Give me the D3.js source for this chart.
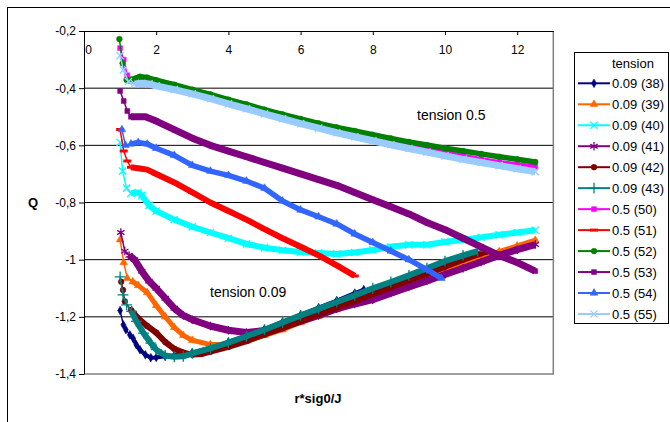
<!DOCTYPE html>
<html>
<head>
<meta charset="utf-8">
<script src="https://cdn.jsdelivr.net/npm/d3@7"></script>
<style>
body { margin: 0; background: #fff; }
svg { font-family: "Liberation Sans", Arial, sans-serif; }
</style>
</head>
<body>
<script>
// tick values and labels
const xTicks = [0, 2, 4, 6, 8, 10, 12];
const yTicks = [-0.2, -0.4, -0.6, -0.8, -1, -1.2, -1.4];
const yTickLabels = ["-0,2", "-0,4", "-0,6", "-0,8", "-1", "-1,2", "-1,4"];

// series names (legend order)
const seriesNames = ["0.09 (38)", "0.09 (39)", "0.09 (40)", "0.09 (41)", "0.09 (42)", "0.09 (43)",
                     "0.5 (50)", "0.5 (51)", "0.5 (52)", "0.5 (53)", "0.5 (54)", "0.5 (55)"];

// [r*sig0/J, Q]
const s38 = [[1.0,-1.178],[1.09,-1.228],[1.16,-1.245],[1.27,-1.263],[1.36,-1.275],[1.45,-1.298],[1.55,-1.315],
  [1.7,-1.333],[1.85,-1.343],[2,-1.342],[2.25,-1.338],[2.5,-1.335],[3,-1.325],[3.5,-1.308],[4,-1.288],
  [4.5,-1.266],[5,-1.243],[5.5,-1.218],[6,-1.193],[6.5,-1.168],[7,-1.143],[7.5,-1.117],[7.75,-1.105]];
const s39 = [[1.0,-0.93],[1.1,-1.01],[1.2,-1.065],[1.35,-1.077],[1.5,-1.09],[1.75,-1.115],[2,-1.16],[2.25,-1.2],
  [2.5,-1.237],[2.75,-1.265],[3,-1.282],[3.5,-1.297],[4,-1.297],[4.5,-1.285],[5,-1.265],[5.5,-1.245],[6,-1.22],
  [6.5,-1.198],[7,-1.175],[7.5,-1.152],[8,-1.128],[8.5,-1.105],[9,-1.08],[9.5,-1.058],[10,-1.035],[10.5,-1.013],
  [11,-0.993],[11.5,-0.972],[12,-0.952],[12.5,-0.932]];
const s40 = [[1.0,-0.59],[1.07,-0.69],[1.18,-0.75],[1.3,-0.768],[1.5,-0.765],[1.6,-0.775],[1.8,-0.81],[2,-0.83],
  [2.5,-0.86],[3,-0.885],[3.5,-0.905],[4,-0.925],[4.5,-0.945],[5,-0.958],[5.5,-0.967],[6,-0.973],[6.5,-0.977],
  [7,-0.98],[7.5,-0.975],[8,-0.966],[8.5,-0.955],[9,-0.948],[9.5,-0.948],[10,-0.938],[10.5,-0.93],[11,-0.922],
  [11.5,-0.913],[12,-0.905],[12.5,-0.897]];
const s41 = [[1.02,-0.905],[1.13,-0.97],[1.25,-0.985],[1.4,-1.0],[1.6,-1.04],[1.8,-1.075],[2,-1.1],[2.25,-1.135],
  [2.5,-1.17],[2.75,-1.195],[3,-1.21],[3.5,-1.232],[4,-1.247],[4.5,-1.255],[5,-1.248],[5.5,-1.235],[6,-1.215],
  [6.5,-1.195],[7,-1.172],[7.5,-1.155],[8,-1.14],[8.5,-1.117],[9,-1.095],[9.5,-1.074],[10,-1.052],[10.5,-1.03],
  [11,-1.008],[11.5,-0.985],[12,-0.965],[12.5,-0.947]];
const s42 = [[1.03,-1.077],[1.08,-1.106],[1.13,-1.146],[1.3,-1.176],[1.5,-1.205],[1.75,-1.232],[2,-1.255],
  [2.25,-1.288],[2.5,-1.312],[2.75,-1.325],[3,-1.332],[3.25,-1.33],[3.5,-1.322],[4,-1.305],[4.5,-1.285],
  [5,-1.262],[5.5,-1.24],[6,-1.215],[6.5,-1.192],[7,-1.168],[7.5,-1.145],[8,-1.12],[8.5,-1.097],[9,-1.073],
  [9.5,-1.05],[10,-1.025],[10.5,-1.0],[11,-0.978],[11.15,-0.972]];
const s43 = [[1.0,-1.06],[1.08,-1.123],[1.18,-1.158],[1.32,-1.181],[1.45,-1.216],[1.65,-1.257],[1.85,-1.292],
  [2,-1.315],[2.25,-1.335],[2.5,-1.34],[2.75,-1.338],[3,-1.328],[3.5,-1.31],[4,-1.29],[4.5,-1.268],[5,-1.245],
  [5.5,-1.22],[6,-1.195],[6.5,-1.172],[7,-1.148],[7.5,-1.125],[8,-1.1],[8.5,-1.078],[9,-1.055],[9.5,-1.03],
  [10,-1.005],[10.5,-0.985],[10.9,-0.97]];
const s50 = [[1.0,-0.26],[1.1,-0.3],[1.2,-0.355],[1.3,-0.375],[1.5,-0.365],[1.75,-0.367],[2,-0.378],[2.5,-0.393],
  [3,-0.41],[3.5,-0.428],[4,-0.447],[4.5,-0.465],[5,-0.483],[5.5,-0.5],[6,-0.517],[6.5,-0.533],[7,-0.548],
  [7.5,-0.562],[8,-0.576],[8.5,-0.589],[9,-0.602],[9.5,-0.614],[10,-0.626],[10.5,-0.638],[11,-0.649],
  [11.5,-0.66],[12,-0.668],[12.5,-0.675]];
const s51 = [[1.0,-0.545],[1.1,-0.62],[1.2,-0.655],[1.3,-0.677],[1.5,-0.68],[1.75,-0.685],[2,-0.7],[2.5,-0.73],
  [3,-0.765],[3.5,-0.8],[4,-0.83],[4.5,-0.86],[5,-0.893],[5.5,-0.925],[6,-0.955],[6.5,-0.985],[7,-1.02],[7.5,-1.057]];
const s52 = [[0.98,-0.228],[1.07,-0.313],[1.18,-0.371],[1.3,-0.37],[1.55,-0.36],[1.75,-0.363],[2,-0.372],
  [2.5,-0.388],[3,-0.405],[3.5,-0.422],[4,-0.44],[4.5,-0.457],[5,-0.475],[5.5,-0.492],[6,-0.508],[6.5,-0.523],
  [7,-0.537],[7.5,-0.55],[8,-0.563],[8.5,-0.576],[9,-0.588],[9.5,-0.599],[10,-0.61],[10.5,-0.62],[11,-0.63],
  [11.5,-0.64],[12,-0.649],[12.5,-0.658]];
const s53 = [[1.0,-0.41],[1.1,-0.445],[1.2,-0.48],[1.3,-0.5],[1.5,-0.5],[1.7,-0.5],[2,-0.515],[2.5,-0.545],
  [3,-0.575],[3.5,-0.6],[4,-0.62],[4.5,-0.64],[5,-0.66],[5.5,-0.68],[6,-0.7],[6.5,-0.72],[7,-0.74],[7.5,-0.765],
  [8,-0.79],[8.5,-0.815],[9,-0.84],[9.5,-0.87],[10,-0.895],[10.5,-0.925],[11,-0.955],[11.5,-0.985],[12,-1.01],
  [12.5,-1.04]];
const s54 = [[1.05,-0.545],[1.15,-0.6],[1.3,-0.595],[1.5,-0.59],[1.75,-0.595],[2,-0.61],[2.5,-0.635],[3,-0.67],
  [3.5,-0.69],[4,-0.705],[4.5,-0.725],[5,-0.75],[5.5,-0.795],[6,-0.826],[6.5,-0.85],[7,-0.875],[7.5,-0.91],
  [8,-0.94],[8.5,-0.97],[9,-1.0],[9.5,-1.035],[9.9,-1.065]];
const s55 = [[1.0,-0.286],[1.09,-0.336],[1.23,-0.377],[1.4,-0.385],[1.6,-0.383],[1.8,-0.385],[2,-0.392],
  [2.5,-0.405],[3,-0.42],[3.5,-0.437],[4,-0.455],[4.5,-0.472],[5,-0.49],[5.5,-0.507],[6,-0.524],[6.5,-0.54],
  [7,-0.556],[7.5,-0.57],[8,-0.584],[8.5,-0.598],[9,-0.611],[9.5,-0.624],[10,-0.637],[10.5,-0.649],[11,-0.66],
  [11.5,-0.671],[12,-0.682],[12.5,-0.692]];

const seriesData = [s38, s39, s40, s41, s42, s43, s50, s51, s52, s53, s54, s55];

// styles
const colors = ["#000080", "#ff6600", "#00ffff", "#800080", "#800000", "#008080",
                "#ff00ff", "#ff0000", "#008000", "#800080", "#3366ff", "#99ccff"];
const markers = ["diamond", "triangle", "x", "asterisk", "circle", "plus",
                 "square", "dash", "circle", "square", "triangle", "x"];
const bandWidth = [4, 5, 6, 7, 6, 6, 5, 6, 5.5, 7, 5.5, 7];

function markerPath(kind) {
    if (kind === "diamond") return d3.symbol(d3.symbolDiamond, 22)();
    if (kind === "triangle") return d3.symbol(d3.symbolTriangle, 26)();
    if (kind === "circle") return d3.symbol(d3.symbolCircle, 26)();
    if (kind === "square") return d3.symbol(d3.symbolSquare, 24)();
    if (kind === "x") return d3.symbol(d3.symbolTimes, 36)();
    if (kind === "plus") return d3.symbol(d3.symbolPlus, 40)();
    if (kind === "asterisk") return d3.symbol(d3.symbolAsterisk, 50)();
    return "M-4,0H4";
}
function isStroke(kind) {
    return kind === "x" || kind === "plus" || kind === "asterisk" || kind === "dash";
}

function main() {
    const svgWidth = 670;
    const svgHeight = 422;
    const svg = d3.select("body").append("svg")
        .attr("width", svgWidth)
        .attr("height", svgHeight);

    // outer chart frame
    svg.append("rect")
        .attr("x", 7.5).attr("y", 7.5)
        .attr("width", 720).attr("height", 500)
        .attr("fill", "none").attr("stroke", "#000");

    const x = d3.scaleLinear().domain([0, 13]).range([84, 553.3]);
    const y = d3.scaleLinear().domain([-1.4, -0.2]).range([374, 31]);

    // gridlines
    svg.selectAll("line.grid")
        .data(yTicks.slice(1, -1))
        .enter().append("line")
        .attr("class", "grid")
        .attr("x1", x(0)).attr("x2", x(13))
        .attr("y1", d => y(d)).attr("y2", d => y(d))
        .attr("stroke", "#000").attr("stroke-width", 1);

    // plot border right + bottom
    svg.append("path")
        .attr("d", `M${x(0)},${y(-1.4)}H${x(13)}V${y(-0.2)}`)
        .attr("fill", "none").attr("stroke", "#808080").attr("stroke-width", 1.5);

    // y axis
    const yAxis = svg.append("g")
        .attr("transform", `translate(${x(0)},0)`)
        .call(d3.axisLeft(y).tickValues(yTicks).tickSize(5).tickSizeOuter(0)
            .tickFormat((d, i) => yTickLabels[i]));
    yAxis.selectAll("text").attr("font-size", 12).attr("fill", "#000");
    yAxis.attr("font-family", null);

    // x axis along the top, labels inside the plot
    const xAxis = svg.append("g")
        .attr("transform", `translate(0,${y(-0.2)})`)
        .call(d3.axisBottom(x).tickValues(xTicks).tickSize(4).tickSizeOuter(0).tickPadding(10));
    xAxis.attr("font-family", null);
    xAxis.selectAll("text").attr("font-size", 12).attr("fill", "#000");
    xAxis.selectAll(".tick").filter(d => d === 0).select("text").attr("dx", 4);

    svg.append("clipPath").attr("id", "plotclip")
        .append("rect")
        .attr("x", x(0)).attr("y", y(-0.2) - 6)
        .attr("width", x(13) - x(0)).attr("height", y(-1.4) - y(-0.2) + 6);

    const line = d3.line().x(d => x(d[0])).y(d => y(d[1]));
    const plot = svg.append("g").attr("clip-path", "url(#plotclip)");

    seriesData.forEach(function (data, i) {
        const group = plot.append("g");
        const col = colors[i];
        // dense marker band
        group.append("path")
            .attr("d", line(data.filter(d => d[0] >= 1.25)))
            .attr("fill", "none").attr("stroke", col)
            .attr("stroke-width", bandWidth[i]).attr("stroke-linejoin", "round");
        group.append("path")
            .attr("d", line(data))
            .attr("fill", "none").attr("stroke", col).attr("stroke-width", 1.5);
        const stroked = isStroke(markers[i]);
        group.selectAll("path.mk")
            .data(data)
            .enter().append("path")
            .attr("class", "mk")
            .attr("transform", d => `translate(${x(d[0])},${y(d[1])})`)
            .attr("d", markerPath(markers[i]))
            .attr("fill", stroked ? "none" : col)
            .attr("stroke", col)
            .attr("stroke-width", markers[i] === "dash" ? 3 : (stroked ? 1.3 : 0.5));
    });

    // annotations
    svg.append("text").attr("x", 417).attr("y", 120)
        .attr("font-size", 14).text("tension 0.5");
    svg.append("text").attr("x", 210).attr("y", 297)
        .attr("font-size", 14).text("tension 0.09");

    // axis titles
    svg.append("text").attr("x", 33).attr("y", 207)
        .attr("text-anchor", "middle").attr("font-size", 13).attr("font-weight", "bold").text("Q");
    svg.append("text").attr("x", 318).attr("y", 403)
        .attr("text-anchor", "middle").attr("font-size", 13).attr("font-weight", "bold").text("r*sig0/J");

    // legend
    const legend = svg.append("g");
    legend.append("rect")
        .attr("x", 574.5).attr("y", 52.5)
        .attr("width", 94).attr("height", 271)
        .attr("fill", "#fff").attr("stroke", "#000");
    legend.append("text").attr("x", 612).attr("y", 67.5)
        .attr("font-size", 13).text("tension");
    const itemY = d3.scaleLinear().domain([0, 11]).range([83.3, 314]);
    legend.selectAll("g.item")
        .data(seriesNames)
        .enter().append("g")
        .attr("class", "item")
        .attr("transform", (d, i) => `translate(0,${itemY(i)})`)
        .each(function (d, i) {
            const g = d3.select(this);
            const stroked = isStroke(markers[i]);
            g.append("line").attr("x1", 578).attr("x2", 610)
                .attr("stroke", colors[i]).attr("stroke-width", 2);
            g.append("path")
                .attr("transform", "translate(594,0)")
                .attr("d", markerPath(markers[i]))
                .attr("fill", stroked ? "none" : colors[i])
                .attr("stroke", colors[i])
                .attr("stroke-width", markers[i] === "dash" ? 3 : (stroked ? 1.3 : 0.5));
            g.append("text").attr("x", 612).attr("y", 4.5)
                .attr("font-size", 13).text(d);
        });
}
main();
</script>
</body>
</html>
